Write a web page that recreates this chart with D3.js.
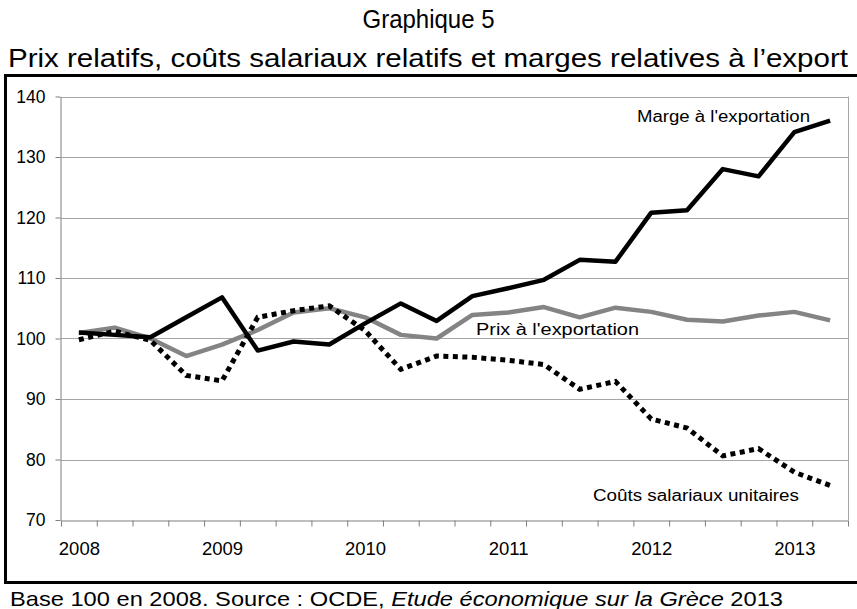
<!DOCTYPE html>
<html>
<head>
<meta charset="utf-8">
<script src="https://cdn.jsdelivr.net/npm/d3@7"></script>
<style>
	body { margin: 0; background: #fff; }
	text { font-family: "Liberation Sans", Arial, sans-serif; fill: #000; }
	.axis path, .axis line { stroke: #7f7f7f; }
	.grid line { stroke: #a6a6a6; stroke-width: 1; }
</style>
</head>
<body>
<script>
// Quarters from 2008 T1 to 2013 T2
var quarters = ["2008T1","2008T2","2008T3","2008T4","2009T1","2009T2","2009T3","2009T4",
	"2010T1","2010T2","2010T3","2010T4","2011T1","2011T2","2011T3","2011T4",
	"2012T1","2012T2","2012T3","2012T4","2013T1","2013T2"]
var yearLabels = ["2008","2009","2010","2011","2012","2013"]
var yTicks = [70, 80, 90, 100, 110, 120, 130, 140]

// values, base 100 in 2008
var marge = [101, 100.6, 100.2, 103.5, 106.8, 98, 99.5, 99, 102.5, 105.8, 102.9, 107,
	108.3, 109.7, 113, 112.7, 120.8, 121.2, 128, 126.8, 134.1, 136]
var prix = [100.9, 101.8, 100, 97.1, 99, 101.4, 104.3, 105, 103.5, 100.6, 100, 103.9,
	104.3, 105.2, 103.5, 105.1, 104.4, 103.1, 102.8, 103.8, 104.4, 103]
var couts = [99.8, 101.2, 99.7, 93.9, 93, 103.5, 104.6, 105.4, 101.3, 94.9, 97.1, 96.9,
	96.4, 95.7, 91.6, 92.9, 86.7, 85.2, 80.6, 81.8, 77.9, 75.7]

var W = 857, H = 609
var plot = {left: 61, right: 848, top: 96.5, bottom: 520}

var svg = d3.select("body").append("svg")
	.attr("width", W)
	.attr("height", H)

// titles
svg.append("text")
	.attr("x", W / 2).attr("y", 28)
	.attr("text-anchor", "middle")
	.style("font-size", "25px")
	.attr("textLength", 132).attr("lengthAdjust", "spacingAndGlyphs")
	.text("Graphique 5")
svg.append("text")
	.attr("x", 8).attr("y", 67)
	.style("font-size", "26px")
	.attr("textLength", 840).attr("lengthAdjust", "spacingAndGlyphs")
	.text("Prix relatifs, coûts salariaux relatifs et marges relatives à l\u2019export")

// black frame round the chart
svg.append("rect")
	.attr("x", 5.5).attr("y", 75.5)
	.attr("width", 860).attr("height", 507)
	.attr("fill", "none")
	.attr("stroke", "#000")
	.attr("stroke-width", 3)

var x = d3.scaleLinear().domain([0, quarters.length]).range([plot.left, plot.right])
var y = d3.scaleLinear().domain([70, 140]).range([plot.bottom, plot.top])

// horizontal grid lines
svg.append("g")
	.attr("class", "grid")
	.selectAll("line")
	.data(yTicks.slice(1))
	.enter().append("line")
	.attr("x1", plot.left).attr("x2", plot.right)
	.attr("y1", function(d) { return Math.round(y(d)) + 0.5 })
	.attr("y2", function(d) { return Math.round(y(d)) + 0.5 })

// right border of the plot
svg.append("line")
	.attr("x1", plot.right + 0.5).attr("x2", plot.right + 0.5)
	.attr("y1", y(140)).attr("y2", y(70))
	.attr("stroke", "#a6a6a6")

// y axis
var yAxis = svg.append("g")
	.attr("class", "axis")
	.attr("transform", "translate(" + (plot.left - 0.5) + ",0)")
	.call(d3.axisLeft(y).tickValues(yTicks).tickSize(5).tickPadding(10).tickSizeOuter(0))
yAxis.selectAll("text").style("font-size", "17.5px").style("fill", "#000")

// x axis: one tick between each quarter, year labels under the first quarter
svg.append("g")
	.attr("class", "axis")
	.attr("transform", "translate(0," + (plot.bottom + 0.5) + ")")
	.call(d3.axisBottom(x).tickValues(d3.range(quarters.length + 1)).tickSize(6).tickFormat("").tickSizeOuter(0))

var labelAxis = svg.append("g")
	.attr("transform", "translate(0," + plot.bottom + ")")
	.call(d3.axisBottom(x)
		.tickValues(yearLabels.map(function(d) { return quarters.indexOf(d + "T1") + 0.5 }))
		.tickFormat(function(d, i) { return yearLabels[i] })
		.tickSize(0).tickPadding(22))
labelAxis.select(".domain").remove()
labelAxis.selectAll("text").style("font-size", "18.5px").style("fill", "#000")

var line = d3.line()
	.x(function(d, i) { return x(i + 0.5) })
	.y(function(d) { return y(d) })

svg.append("path")
	.datum(prix)
	.attr("d", line)
	.attr("fill", "none")
	.attr("stroke", "#848484")
	.attr("stroke-width", 4.5)
	.attr("stroke-linejoin", "round")

svg.append("path")
	.datum(couts)
	.attr("d", line)
	.attr("fill", "none")
	.attr("stroke", "#000")
	.attr("stroke-width", 5)
	.attr("stroke-dasharray", "5,4.5")

svg.append("path")
	.datum(marge)
	.attr("d", line)
	.attr("fill", "none")
	.attr("stroke", "#000")
	.attr("stroke-width", 4.5)
	.attr("stroke-linejoin", "round")

// series labels written inside the plot
function seriesLabel(txt, px, py, len) {
	svg.append("text")
		.attr("x", px).attr("y", py)
		.style("font-size", "16px")
		.attr("textLength", len).attr("lengthAdjust", "spacingAndGlyphs")
		.text(txt)
}
seriesLabel("Marge à l'exportation", 637, 122, 173)
seriesLabel("Prix à l'exportation", 476, 335, 163)
seriesLabel("Coûts salariaux unitaires", 593, 501, 206)

// source line under the frame
var src = svg.append("text")
	.attr("x", 10).attr("y", 606)
	.style("font-size", "21px")
	.attr("textLength", 773).attr("lengthAdjust", "spacingAndGlyphs")
src.append("tspan").text("Base 100 en 2008. Source : OCDE, ")
src.append("tspan").style("font-style", "italic").text("Etude économique sur la Grèce")
src.append("tspan").text(" 2013")
</script>
</body>
</html>
